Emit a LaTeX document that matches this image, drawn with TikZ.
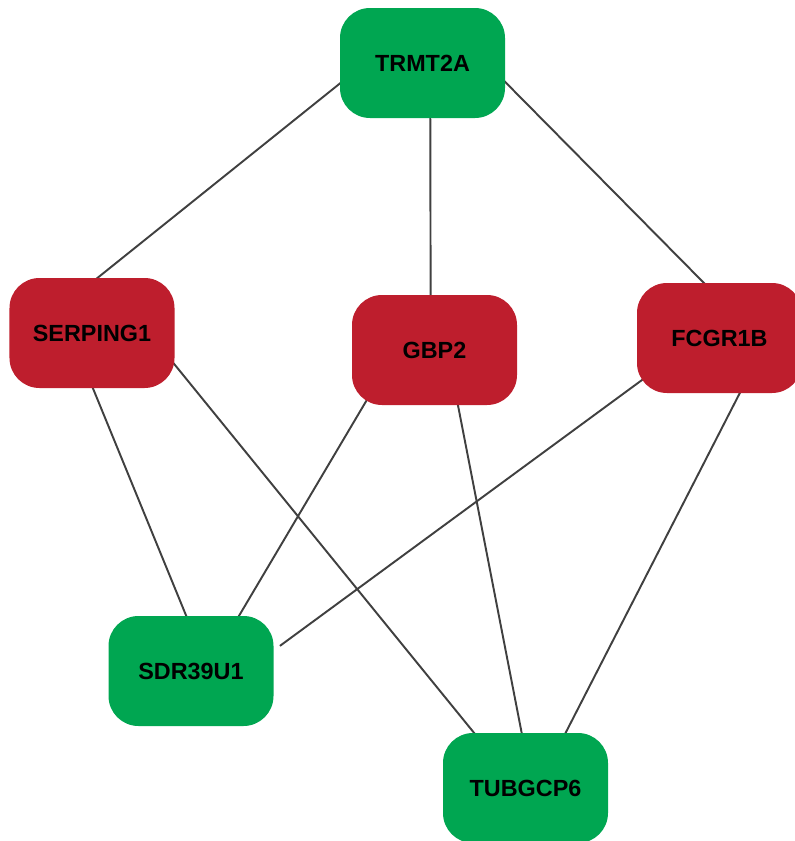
\documentclass[tikz,border=0pt]{standalone}
\usepackage{fontspec}
\setmainfont{Liberation Sans}
\usepackage{xcolor}
\usepackage{tikz}
\usetikzlibrary{backgrounds}

\definecolor{upred}{RGB}{190,30,45}
\definecolor{downgreen}{RGB}{0,166,81}
\definecolor{edgegray}{RGB}{64,64,64}

\begin{document}
\begin{tikzpicture}[
    gene/.style={rectangle, rounded corners=0.6cm, minimum width=3.3cm, minimum height=2.2cm,
        font=\fontsize{13.3}{16}\selectfont\bfseries, text=black, inner sep=0pt},
    upgene/.style={gene, fill=upred},
    downgene/.style={gene, fill=downgreen},
    link/.style={draw=edgegray, line width=1.1pt, shorten <=-0.3cm, shorten >=-0.3cm}
]
    \useasboundingbox (0,0) rectangle (15.9,-16.82);
    \clip (0,0) rectangle (15.9,-16.82);

    % genes
    \node[downgene] (trmt) at (8.45,-1.26) {TRMT2A};
    \node[upgene] (serping) at (1.84,-6.66) {SERPING1};
    \node[upgene] (gbp) at (8.69,-7.0) {GBP2};
    \node[upgene] (fcgr) at (14.39,-6.76) {FCGR1B};
    \node[downgene] (sdr) at (3.82,-13.42) {SDR39U1};
    \node[downgene] (tubgcp) at (10.51,-15.76) {TUBGCP6};

    % interactions, drawn behind the boxes
    \begin{scope}[on background layer]
        \draw[link] (trmt.194) -- (serping.84);
        \draw[link] (trmt.278) -- (gbp.94);
        \draw[link] (trmt.347) -- (fcgr.106);
        \draw[link] (serping.271) -- (sdr.95);
        \draw[link] (serping.339) -- (tubgcp.133);
        \draw[link] (gbp.218) -- (sdr.49);
        \draw[link] (gbp.293) -- (tubgcp.94);
        \draw[link, shorten >=0.15cm] (fcgr.209) -- (sdr.14);
        \draw[link] (fcgr.290) -- (tubgcp.54);
    \end{scope}
\end{tikzpicture}
\end{document}
